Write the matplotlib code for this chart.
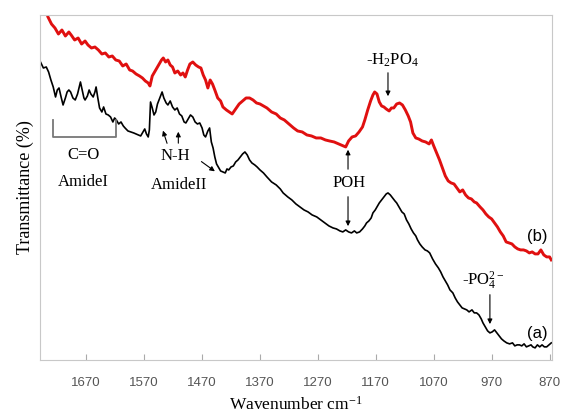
import matplotlib
matplotlib.use("Agg")
import matplotlib.pyplot as plt

plt.rcParams["mathtext.fontset"] = "custom"
plt.rcParams["mathtext.rm"] = "Liberation Serif"
plt.rcParams["mathtext.it"] = "Liberation Serif"

# spectrum (b) - red, wavenumber / transmittance (arb. units)
wn_b = [1736, 1730, 1724, 1718, 1712, 1706, 1700, 1696, 1690, 1684, 1678, 1672, 1667, 1661,
        1655, 1649, 1643, 1637, 1631, 1625, 1619, 1613, 1607, 1601, 1595, 1590, 1584, 1578,
        1573, 1568, 1563, 1560, 1556, 1551, 1545, 1540, 1537, 1533, 1529, 1525, 1521, 1517,
        1512, 1507, 1503, 1499, 1495, 1491, 1486, 1481, 1476, 1472, 1468, 1464, 1460, 1456,
        1452, 1448, 1443, 1438, 1434, 1428, 1423, 1418, 1412, 1406, 1400, 1394, 1388, 1382,
        1376, 1370, 1364, 1358, 1350, 1342, 1335, 1328, 1320, 1312, 1305, 1297, 1289, 1281,
        1273, 1265, 1257, 1250, 1242, 1234, 1226, 1222, 1217, 1211, 1205, 1199, 1193, 1189,
        1184, 1179, 1175, 1172, 1168, 1164, 1160, 1156, 1152, 1147, 1143, 1139, 1134, 1129,
        1124, 1119, 1114, 1110, 1106, 1101, 1096, 1090, 1084, 1078, 1074, 1070, 1065, 1060,
        1055, 1050, 1045, 1040, 1035, 1030, 1025, 1020, 1015, 1010, 1005, 1000, 996, 990,
        985, 980, 975, 970, 965, 960, 955, 950, 945, 940, 935, 930, 925, 920, 915, 910, 905,
        900, 895, 890, 885, 880, 875, 870, 867]
t_b = [343, 336, 332, 326, 330, 324, 328, 325, 320, 322, 316, 319, 315, 312,
       313, 310, 306, 307, 303, 304, 300, 299, 294, 296, 290, 289, 286, 284,
       282, 279, 277, 274, 284, 289, 295, 300, 302, 298, 300, 295, 293, 287,
       289, 285, 287, 283, 290, 296, 298, 295, 293, 292, 285, 280, 272, 280,
       276, 270, 262, 259, 253, 250, 248, 246, 251, 256, 259, 262, 262, 260,
       257, 256, 254, 252, 248, 246, 242, 240, 236, 232, 229, 228, 225, 224,
       222, 222, 220, 219, 218, 216, 214, 213, 219, 223, 224, 228, 233, 240,
       250, 259, 265, 268, 266, 258, 254, 253, 251, 249, 252, 252, 256, 257,
       255, 250, 244, 238, 227, 222, 221, 219, 218, 216, 220, 214, 207, 200,
       192, 184, 179, 177, 176, 172, 168, 170, 165, 162, 161, 158, 157, 153,
       150, 146, 143, 141, 137, 133, 128, 124, 118, 117, 116, 113, 111, 110, 110, 109, 107,
       108, 106, 106, 110, 105, 103, 103, 100]

# spectrum (a) - black
wn_a = [1749, 1744, 1739, 1735, 1731, 1727, 1723, 1720, 1717, 1713, 1710, 1706, 1703, 1700,
        1697, 1693, 1689, 1685, 1682, 1680, 1677, 1674, 1672, 1668, 1665, 1662, 1658, 1655,
        1653, 1650, 1647, 1643, 1640, 1636, 1632, 1628, 1624, 1621, 1618, 1614, 1610, 1606,
        1603, 1598, 1593, 1588, 1584, 1580, 1576, 1572, 1569, 1566, 1563, 1561, 1559, 1556,
        1553, 1550, 1547, 1543, 1539, 1536, 1532, 1529, 1525, 1521, 1517, 1513, 1509, 1505,
        1501, 1498, 1494, 1490, 1486, 1482, 1478, 1474, 1470, 1467, 1464, 1460, 1457, 1454,
        1451, 1448, 1445, 1442, 1438, 1434, 1430, 1427, 1424, 1420, 1416, 1412, 1408, 1404,
        1400, 1396, 1392, 1388, 1384, 1379, 1375, 1370, 1364, 1358, 1350, 1342, 1335, 1330,
        1322, 1315, 1308, 1301, 1294, 1287, 1280, 1272, 1265, 1258, 1251, 1244, 1238, 1232,
        1227, 1222, 1217, 1212, 1207, 1203, 1198, 1193, 1189, 1186, 1182, 1178, 1175, 1171,
        1168, 1164, 1160, 1156, 1152, 1149, 1145, 1141, 1137, 1134, 1129, 1125, 1121, 1117,
        1113, 1109, 1105, 1101, 1098, 1094, 1090, 1085, 1081, 1077, 1072, 1067, 1062, 1058,
        1054, 1050, 1046, 1042, 1037, 1033, 1029, 1025, 1021, 1017, 1013, 1009, 1004, 1000,
        996, 992, 988, 985, 981, 977, 973, 969, 965, 961, 957, 953, 949, 944, 939, 934, 930,
        926, 922, 918, 914, 910, 906, 902, 899, 895, 891, 887, 883, 879, 875, 871, 867]
t_a = [298, 292, 293, 288, 280, 273, 263, 270, 272, 262, 255, 262, 268, 270,
       268, 262, 260, 266, 273, 278, 270, 262, 260, 264, 270, 266, 263, 268,
       273, 262, 252, 248, 253, 246, 245, 243, 238, 242, 240, 236, 238, 234,
       232, 229, 228, 227, 226, 225, 224, 228, 231, 226, 223, 230, 258, 252,
       245, 248, 256, 262, 268, 262, 257, 255, 259, 253, 250, 252, 246, 244,
       238, 237, 241, 245, 243, 238, 236, 237, 232, 225, 223, 229, 232, 218,
       212, 203, 196, 193, 189, 188, 187, 191, 190, 193, 194, 198, 200, 203,
       206, 208, 205, 200, 197, 195, 193, 190, 187, 183, 178, 175, 171, 167,
       163, 160, 156, 153, 150, 148, 145, 143, 140, 137, 134, 132, 131, 129,
       128, 130, 128, 127, 129, 127, 128, 131, 134, 137, 139, 142, 147, 150,
       153, 157, 160, 163, 166, 167, 165, 162, 159, 157, 152, 148, 146, 140,
       136, 131, 127, 124, 120, 116, 113, 110, 109, 107, 101, 96, 92, 88,
       83, 79, 75, 70, 67, 62, 58, 55, 52, 51, 50, 48, 50, 47,
       47, 45, 41, 37, 33, 29, 27, 28, 30, 27, 24, 21, 19, 17, 16, 17, 14,
       15, 15, 14, 16, 13, 14, 15, 13, 12, 15, 13, 15, 13, 13, 15, 17]

xticks = [1670, 1570, 1470, 1370, 1270, 1170, 1070, 970, 870]

fig = plt.figure(figsize=(5.62, 4.17), dpi=100)
ax = fig.add_axes([0.071, 0.137, 0.911, 0.827])

ax.plot(wn_b, t_b, color="#e01010", lw=2.1)
ax.plot(wn_a, t_a, color="black", lw=1.2)

ax.set_xlim(1750, 866)
ax.set_ylim(0, 345)
ax.set_xticks(xticks)
ax.set_yticks([])
ax.tick_params(axis="x", direction="in", length=4, color="#aaaaaa",
               labelcolor="#555555", labelsize=9.5, pad=12)
for lab in ax.get_xticklabels():
    lab.set_family("Liberation Sans")
for s in ax.spines.values():
    s.set_color("#c8c8c8")

serif = "Liberation Serif"
ax.set_xlabel("Wavenumber cm$^{-1}$", family=serif, fontsize=12.5, labelpad=5)
ax.set_ylabel("Transmittance (%)", family=serif, fontsize=13, labelpad=4)

# annotations
gray = "#777777"
ax.plot([1727, 1727, 1618, 1618], [240, 223, 223, 240], color=gray, lw=1.3)
ax.text(1675, 205, "C=O", family=serif, fontsize=12, ha="center", va="center")
ax.text(1675, 178, "AmideI", family=serif, fontsize=12, ha="center", va="center")

ap = dict(arrowstyle="-|>", color="black", lw=0.8, mutation_scale=7)
ax.annotate("", xy=(1539, 232), xytext=(1529, 214), arrowprops=ap)
ax.annotate("", xy=(1511, 231), xytext=(1511, 214), arrowprops=ap)
ax.annotate("", xy=(1444, 187), xytext=(1475, 200), arrowprops=ap)
ax.text(1517, 204, "N-H", family=serif, fontsize=12, ha="center", va="center")
ax.text(1509, 175, "AmideII", family=serif, fontsize=12, ha="center", va="center")

ax.text(1216, 177, "POH", family=serif, fontsize=12, ha="center", va="center")
ax.annotate("", xy=(1218, 213), xytext=(1218, 188), arrowprops=ap)
ax.annotate("", xy=(1218, 131), xytext=(1218, 166), arrowprops=ap)

ax.text(1141, 300, "-H$_2$PO$_4$", family=serif, fontsize=12, ha="center", va="center")
ax.annotate("", xy=(1149, 261), xytext=(1149, 290), arrowprops=ap)

ax.text(984, 79, "-PO$_4^{2-}$", family=serif, fontsize=12, ha="center", va="center")
ax.annotate("", xy=(973, 33), xytext=(973, 68), arrowprops=ap)

ax.text(892, 123, "(b)", family="Liberation Sans", fontsize=12, ha="center", va="center")
ax.text(891, 26, "(a)", family="Liberation Sans", fontsize=12, ha="center", va="center")

fig.savefig("out.png", dpi=100)
